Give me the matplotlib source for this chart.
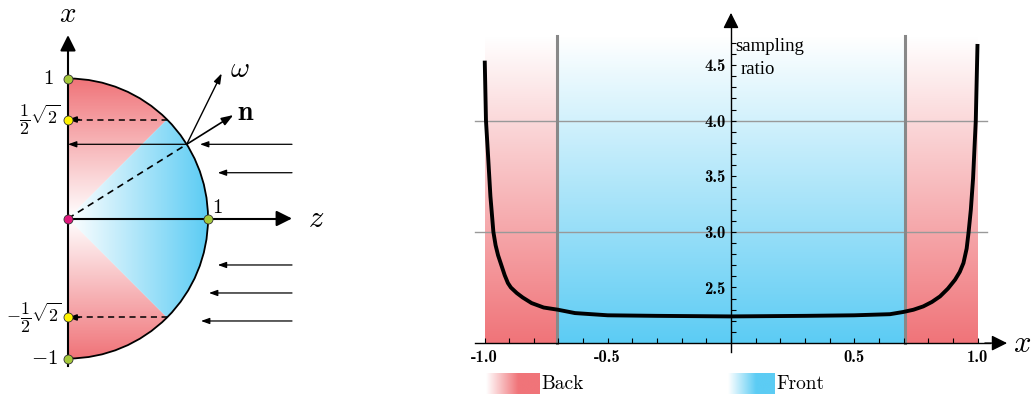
import numpy as np
import matplotlib
matplotlib.use('Agg')
import matplotlib.pyplot as plt
from matplotlib.colors import LinearSegmentedColormap
from matplotlib.patches import Wedge, Arc

plt.rcParams['mathtext.fontset'] = 'cm'

W, H = 1032, 394
RED = '#F07479'
BLUE = '#5CCCF4'
LIME = '#A5C83A'
YELLOW = '#FFF200'
MAGENTA = '#E0197D'

red_cmap = LinearSegmentedColormap.from_list('back', ['white', RED])
blue_cmap = LinearSegmentedColormap.from_list('front', ['white', BLUE])

# ---- data: sampling ratio curve ----
x_pts = [-0.999, -0.994, -0.987, -0.976, -0.964, -0.955, -0.945, -0.930, -0.918,
         -0.905, -0.893, -0.869, -0.845, -0.809, -0.760, -0.702, -0.633, -0.500,
         -0.300, 0.000, 0.300, 0.500, 0.645, 0.699, 0.740, 0.780, 0.815, 0.848,
         0.880, 0.909, 0.928, 0.943, 0.956, 0.964, 0.973, 0.982, 0.993, 1.000]
ratio_pts = [4.54, 4.00, 3.74, 3.32, 3.00, 2.88, 2.79, 2.69, 2.61,
             2.54, 2.50, 2.45, 2.41, 2.36, 2.32, 2.30, 2.27, 2.25,
             2.245, 2.24, 2.245, 2.25, 2.26, 2.28, 2.30, 2.33, 2.37, 2.42,
             2.49, 2.57, 2.64, 2.72, 2.85, 3.00, 3.20, 3.48, 4.00, 4.69]
front_edges = [-0.707, 0.707]
x_ticks = [-1.0, -0.5, 0.5, 1.0]
x_tick_labels = ['-1.0', '-0.5', '0.5', '1.0']
y_ticks = [2.5, 3.0, 3.5, 4.0, 4.5]
y_tick_labels = ['2.5', '3.0', '3.5', '4.0', '4.5']
guide_levels = [3.0, 4.0]
y_base, y_top = 2.0, 4.76

# ---- data: hemisphere sketch, (z, x) units ----
lime_pts_z, lime_pts_x = [0, 0, 1], [1, -1, 0]
half_pts_z, half_pts_x = [0, 0], [0.707, -0.707]
hit_pt = (0.848, 0.53)
normal_tip = (1.181, 0.739)
omega_tip = (1.098, 1.037)
ray_x = [0.53, 0.327, -0.332, -0.532, -0.732]
ray_head_z = [0.943, 1.07, 1.07, 1.007, 0.95]
ray_start_z = 1.6


def fig_rect(x0, y0, x1, y1):
    return [x0 / W, 1 - y1 / H, (x1 - x0) / W, (y1 - y0) / H]


def arrow(ax, start, end, lw=0.9, hl=0.5, hw=0.18, ms=10, z=5):
    ax.annotate('', xy=end, xytext=start,
                arrowprops=dict(arrowstyle=f'-|>,head_length={hl},head_width={hw}',
                                color='black', lw=lw, shrinkA=0, shrinkB=0,
                                mutation_scale=ms), zorder=z)


fig = plt.figure(figsize=(W / 100, H / 100), dpi=100)

# =================== left: hemisphere sketch ===================
ax1 = fig.add_axes(fig_rect(0, 0, 330, 394))
ax1.axis('off')
ax1.set_xlim(-68 / 140, (330 - 68) / 140)
ax1.set_ylim((218.5 - 394) / 140, 218.5 / 140)

zz, xx = np.meshgrid(np.linspace(0, 1, 300), np.linspace(1, -1, 600))
for (t1, t2), img in [((45, 90), red_cmap(np.abs(xx))),
                      ((-90, -45), red_cmap(np.abs(xx))),
                      ((-45, 45), blue_cmap(zz))]:
    im = ax1.imshow(img, extent=[0, 1, -1, 1], aspect='auto', zorder=1,
                    interpolation='bilinear')
    im.set_clip_path(Wedge((0, 0), 1, t1, t2, transform=ax1.transData))

ax1.add_patch(Arc((0, 0), 2, 2, theta1=-90, theta2=90, color='black', lw=1.3, zorder=3))

# axes of the sketch
ax1.plot([0, 0], [-1.05, 1.2], color='black', lw=1.5, zorder=4)
arrow(ax1, (0, 1.2), (0, 1.31), lw=1.5, hl=0.94, hw=0.47)
ax1.plot([0, 1.5], [0, 0], color='black', lw=1.5, zorder=4)
arrow(ax1, (1.5, 0), (1.6, 0), lw=1.5, hl=0.94, hw=0.47)

# dashed projections
ax1.plot([0, hit_pt[0]], [0, hit_pt[1]], color='black', lw=1.2, ls=(0, (4, 3)), zorder=4)
for hx in half_pts_x:
    ax1.plot([0.06, 0.707], [hx, hx], color='black', lw=1.1, ls=(0, (4, 3)), zorder=4)
    arrow(ax1, (0.08, hx), (0.0, hx), lw=1.1)

# rays
for rx, hz in zip(ray_x, ray_head_z):
    arrow(ax1, (ray_start_z, rx), (hz, rx))
arrow(ax1, hit_pt, (0, hit_pt[1]))
arrow(ax1, hit_pt, normal_tip, lw=1.2, hl=0.7, hw=0.25)
arrow(ax1, hit_pt, omega_tip, lw=1.0, hl=0.6, hw=0.2)

ax1.plot(lime_pts_z, lime_pts_x, 'o', ms=6.5, mfc=LIME, mec='#333333', mew=0.6, zorder=6)
ax1.plot(half_pts_z, half_pts_x, 'o', ms=6.5, mfc=YELLOW, mec='#333333', mew=0.6, zorder=6)
ax1.plot([0], [0], 'o', ms=6.5, mfc=MAGENTA, mec='#333333', mew=0.6, zorder=6)

ax1.text(0, 1.46, r'$x$', fontsize=21, ha='center', va='center')
ax1.text(1.77, 0, r'$z$', fontsize=22, ha='center', va='center')
ax1.text(1.23, 1.07, r'$\omega$', fontsize=21, ha='center', va='center')
ax1.text(1.27, 0.76, r'$\mathbf{n}$', fontsize=20, ha='center', va='center')
ax1.text(-0.143, 1.0, r'$1$', fontsize=15, ha='center', va='center')
ax1.text(-0.2, 0.707, r'$\dfrac{1}{2}\sqrt{2}$', fontsize=13, ha='center', va='center')
ax1.text(-0.245, -0.707, r'$-\dfrac{1}{2}\sqrt{2}$', fontsize=13, ha='center', va='center')
ax1.text(-0.17, -1.0, r'$-1$', fontsize=15, ha='center', va='center')
ax1.text(1.07, 0.08, r'$1$', fontsize=15, ha='center', va='center')

# =================== right: sampling ratio ===================
ax = fig.add_axes(fig_rect(460, 0, 1032, 394))
xlim = ((460 - 731) / 246.5, (1032 - 731) / 246.5)
ylim = (4.0 - (394 - 120.7) / 111.2, 4.0 + 120.7 / 111.2)

col = np.linspace(0, 1, 256).reshape(-1, 1)
bands = [(-1.0, front_edges[0], red_cmap), (front_edges[0], front_edges[1], blue_cmap),
         (front_edges[1], 1.0, red_cmap)]
for a, b, cm in bands:
    ax.imshow(cm(col), extent=[a, b, y_base, y_top], aspect='auto', zorder=0,
              interpolation='bilinear')

for lv in guide_levels:
    ax.plot([-1.04, 1.04], [lv, lv], color='#999999', lw=1.0, zorder=1)
for fe in front_edges:
    ax.plot([fe, fe], [y_base, y_top], color='#888888', lw=2.2, zorder=1)

ax.plot(x_pts, ratio_pts, color='black', lw=2.8, zorder=3, solid_capstyle='butt',
        solid_joinstyle='round')

for s in ['top', 'right']:
    ax.spines[s].set_visible(False)
ax.spines['left'].set_position(('data', 0))
ax.spines['bottom'].set_position(('data', y_base))
ax.spines['left'].set_bounds(1.92, 4.88)
ax.spines['bottom'].set_bounds(-1.04, 1.05)
for s in ['left', 'bottom']:
    ax.spines[s].set_linewidth(1.0)
    ax.spines[s].set_zorder(4)

ax.set_xticks(x_ticks, labels=x_tick_labels)
ax.set_xticks(np.round(np.arange(-1.0, 1.01, 0.1), 2), minor=True)
ax.set_yticks(y_ticks, labels=y_tick_labels)
ax.set_yticks(np.round(np.arange(2.1, 4.71, 0.1), 2), minor=True)
ax.tick_params(which='both', direction='in', length=3.5, width=0.8)
ax.tick_params(axis='x', pad=5)
ax.tick_params(axis='y', pad=4)
for lab in ax.get_xticklabels() + ax.get_yticklabels():
    lab.set_fontfamily('cmb10')
    lab.set_fontsize(12)

arrow(ax, (0, 4.85), (0, 4.97), lw=1.0, hl=0.94, hw=0.47)
arrow(ax, (1.03, y_base), (1.12, y_base), lw=1.0, hl=0.94, hw=0.47)
ax.text(1.18, y_base, r'$x$', fontsize=22, ha='center', va='center')

ax.text(0.016, 4.745, 'sampling', family='Liberation Serif', fontsize=13.5,
        ha='left', va='top')
ax.text(0.04, 4.46, 'ratio', family='Liberation Serif', fontsize=13.5,
        ha='left', va='center')

ax.set_xlim(*xlim)
ax.set_ylim(*ylim)

# legend swatches
row = np.clip(np.linspace(0, 1, 256) / 0.6, 0, 1).reshape(1, -1)
for (x0, x1), cm, name in [((486, 540), red_cmap, 'Back'), ((728, 775), blue_cmap, 'Front')]:
    lax = fig.add_axes(fig_rect(x0, 373, x1, 394))
    lax.imshow(cm(row), aspect='auto', interpolation='bilinear')
    lax.axis('off')
    fig.text((x1 + 1) / W, 1 - 384 / H, name, family='cmr10', fontsize=14,
             ha='left', va='center')

fig.savefig('out.png', dpi=100)
